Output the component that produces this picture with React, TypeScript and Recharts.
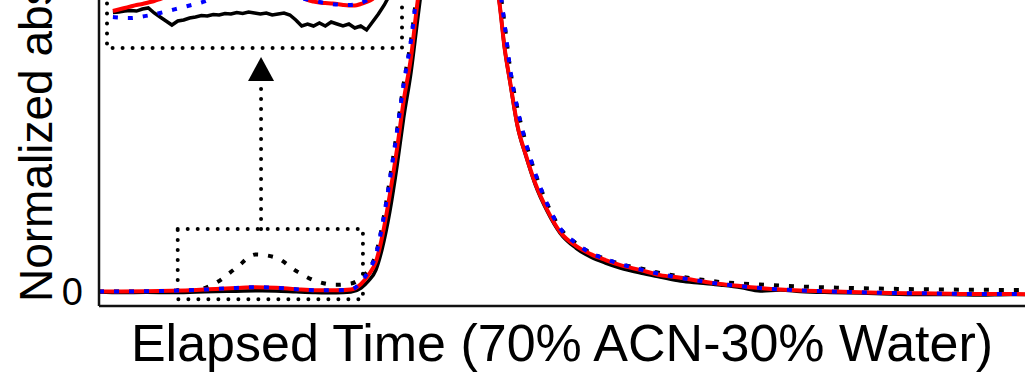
import React from "react";
import {
  ComposedChart,
  LineChart,
  Line,
  XAxis,
  YAxis,
  ReferenceArea,
  ReferenceLine,
  ReferenceDot,
} from "recharts";

// elapsed time (arbitrary units, 0-100 across the axis)
const TIME = [
  0, 2.4, 5.1, 7.8, 10.5, 12.6, 14.8, 16.9, 19.1, 21.3, 23.4, 25.6, 27.2, 28.3,
  29.1, 29.9, 30.6, 31.4, 32.2, 32.9, 33.7, 34.4, 35.3, 36.4, 37.8, 39.1, 40.4,
  41.6, 42.5, 43.2, 43.8, 44.4, 45.2, 46.1, 47.1, 48.4, 49.8, 51.5, 53.1, 54.7,
  56.3, 58.5, 60.6, 62.8, 64.9, 67.1, 69.3, 71.4, 73.6, 75.7, 79.0, 82.2, 85.4,
  88.7, 91.9, 95.1, 98.4, 100,
];

// normalized absorbance, solid black trace
const BLACK = [
  0, -0.0011, -0.0007, -0.0011, 0, 0.0011, 0.0018, 0.0026, 0.0022, 0.0004,
  -0.0011, -0.0018, 0, 0.0088, 0.0241, 0.0482, 0.0964, 0.1753, 0.2784, 0.3814,
  0.4822, 0.5962, 0.735, 0.87, 0.98, 1.0, 0.947, 0.815, 0.706, 0.64, 0.534,
  0.458, 0.362, 0.298, 0.236, 0.177, 0.129, 0.0964, 0.0767, 0.0635, 0.0526,
  0.0416, 0.0329, 0.0241, 0.0197, 0.0153, 0.0099, 0.0022, 0.0044, 0.0011,
  -0.0011, -0.0022, -0.0044, -0.0055, -0.0055, -0.0066, -0.0055, -0.0055,
];

// dotted black trace (with the small hump before the main peak)
const BLACK_DOT = [
  0.001, 0.001, 0.0015, 0.0026, 0.0044, 0.0197, 0.0526, 0.0822, 0.0756, 0.046,
  0.0241, 0.0158, 0.0186, 0.0307, 0.0482, 0.0833, 0.1469, 0.2455, 0.3551,
  0.4559, 0.5524, 0.6664, 0.78, 0.9, 0.99, 1.0, 0.96, 0.84, 0.74, 0.675, 0.587,
  0.489, 0.401, 0.327, 0.261, 0.193, 0.14, 0.107, 0.0855, 0.0723, 0.0614,
  0.0515, 0.0416, 0.034, 0.0274, 0.0219, 0.0186, 0.0164, 0.0142, 0.0121,
  0.0099, 0.0083, 0.007, 0.0061, 0.0053, 0.0048, 0.0044, 0.0044,
];

const RED = [
  0.001, 0.001, 0.0015, 0.0026, 0.0044, 0.0066, 0.0088, 0.0105, 0.0092, 0.0061,
  0.0039, 0.0037, 0.0055, 0.0175, 0.0373, 0.0658, 0.1228, 0.2126, 0.3156,
  0.4187, 0.5151, 0.6357, 0.75, 0.88, 0.985, 1.0, 0.947, 0.815, 0.706, 0.64,
  0.535, 0.46, 0.364, 0.3, 0.239, 0.18, 0.1315, 0.101, 0.083, 0.07, 0.059,
  0.048, 0.037, 0.031, 0.024, 0.0175, 0.013, 0.0088, 0.0055, 0.0033, 0.0011,
  -0.0007, -0.0022, -0.0028, -0.0039, -0.0044, -0.0044, -0.0048,
];

const BLUE = [
  0.001, 0.001, 0.0015, 0.0026, 0.0044, 0.0066, 0.0088, 0.0105, 0.0092, 0.0061,
  0.0039, 0.0037, 0.0055, 0.0219, 0.046, 0.0811, 0.1469, 0.2455, 0.3551,
  0.4559, 0.5524, 0.6664, 0.78, 0.9, 0.99, 1.0, 0.96, 0.84, 0.74, 0.675, 0.587,
  0.489, 0.401, 0.327, 0.261, 0.193, 0.14, 0.107, 0.0855, 0.0723, 0.0614,
  0.0493, 0.0395, 0.0307, 0.0241, 0.0175, 0.013, 0.0088, 0.0055, 0.0033,
  0.0011, -0.0007, -0.0022, -0.0028, -0.0039, -0.0044, -0.0044, -0.0048,
];

// magnified inset (its own scale)
const INSET_U = [
  2, 4, 6, 8, 10, 12, 14, 16, 18, 20, 22, 24, 26, 28, 30, 32, 34, 36, 38, 40,
  42, 44, 46, 48, 50, 52, 54, 56, 58, 60, 62, 64, 66, 68, 70, 72, 74, 76, 78,
  80, 82, 84, 86, 88, 90, 92, 94, 96, 98, 100,
];
const INSET_BLACK = [
  0.403, 0.409, 0.42, 0.426, 0.42, 0.443, 0.455, 0.398, 0.352, 0.307, 0.261,
  0.307, 0.318, 0.341, 0.352, 0.369, 0.364, 0.381, 0.375, 0.392, 0.386, 0.403,
  0.392, 0.409, 0.398, 0.386, 0.398, 0.375, 0.386, 0.398, 0.375, 0.318, 0.25,
  0.273, 0.25, 0.284, 0.25, 0.295, 0.273, 0.25, 0.273, 0.227, 0.25, 0.205,
  0.295, 0.386, 0.489, 0.614, 0.773, 0.943,
];
const INSET_RED = [
  0.42, 0.438, 0.455, 0.472, 0.489, 0.5, 0.517, 0.534, 0.557, 0.58, 0.602,
  0.625, 0.648, 0.67, 0.693, 0.705, 0.716, 0.727, 0.739, 0.75, 0.756, 0.761,
  0.761, 0.761, 0.761, 0.756, 0.75, 0.739, 0.722, 0.705, 0.67, 0.636, 0.591,
  0.545, 0.528, 0.517, 0.511, 0.506, 0.5, 0.489, 0.483, 0.483, 0.5, 0.523,
  0.557, 0.614, 0.705, 0.818, 0.955, 1.114,
];
const INSET_BLUE = [
  0.352, 0.347, 0.341, 0.341, 0.347, 0.358, 0.369, 0.381, 0.398, 0.415, 0.432,
  0.449, 0.466, 0.483, 0.5, 0.517, 0.54, 0.563, 0.585, 0.602, 0.619, 0.636,
  0.648, 0.659, 0.659, 0.659, 0.653, 0.642, 0.625, 0.608, 0.591, 0.574, 0.563,
  0.551, 0.54, 0.523, 0.511, 0.5, 0.494, 0.489, 0.489, 0.494, 0.511, 0.54,
  0.58, 0.636, 0.716, 0.807, 0.92, 1.057,
];

// zoom box around the hump and the arrow pointing to the inset
const ZOOM_BOX = { x1: 8.5, x2: 28.5, y1: -0.016, y2: 0.138 };
const ARROW_X = 17.5;
const ARROW_TOP = 0.4625;

const FONT = "'Liberation Sans', Arial, Helvetica, sans-serif";

const mainData = TIME.map((t, i) => ({
  t,
  black: BLACK[i],
  blackDot: BLACK_DOT[i],
  red: RED[i],
  blue: BLUE[i],
}));

const insetData = INSET_U.map((u, i) => ({
  u,
  black: INSET_BLACK[i],
  red: INSET_RED[i],
  blue: INSET_BLUE[i],
}));

const XLabel = (props: any) => {
  const vb = props.viewBox;
  return (
    <text
      x={vb.x + vb.width / 2}
      y={361}
      textAnchor="middle"
      fontSize={52}
      fontFamily={FONT}
      fill="#000"
    >
      Elapsed Time (70% ACN-30% Water)
    </text>
  );
};

const YLabel = () => (
  <text
    x={52}
    y={302}
    transform="rotate(-90, 52, 302)"
    textAnchor="start"
    fontSize={46}
    fontFamily={FONT}
    fill="#000"
  >
    Normalized absorbance
  </text>
);

const Arrowhead = (props: any) => {
  const { cx, cy } = props;
  return (
    <polygon
      points={`${cx - 13},${cy} ${cx + 13},${cy} ${cx},${cy - 24}`}
      fill="#000"
    />
  );
};

const dotted = {
  stroke: "#000",
  strokeWidth: 4,
  strokeDasharray: "0 10",
  strokeLinecap: "round" as const,
};

export default function App() {
  return (
    <div
      style={{
        position: "fixed",
        left: 0,
        top: 0,
        width: 1025,
        height: 375,
        background: "#fff",
        overflow: "hidden",
      }}
    >
      <ComposedChart
        width={1025}
        height={375}
        data={mainData}
        margin={{ top: 0, right: 0, bottom: 0, left: 0 }}
      >
        <XAxis
          dataKey="t"
          type="number"
          domain={[0, 100]}
          allowDataOverflow
          height={69}
          tick={false}
          tickLine={false}
          axisLine={{ stroke: "#111", strokeWidth: 2.5 }}
          label={{ content: XLabel }}
        />
        <YAxis
          type="number"
          domain={[-0.0307, 0.64]}
          allowDataOverflow
          width={99}
          ticks={[0]}
          tickSize={0}
          tickMargin={16}
          tickLine={false}
          axisLine={{ stroke: "#111", strokeWidth: 2.5 }}
          tick={{ fontSize: 38, fill: "#000", fontFamily: FONT }}
          label={{ content: YLabel }}
        />
        <ReferenceArea
          {...ZOOM_BOX}
          ifOverflow="visible"
          fill="none"
          fillOpacity={0}
          {...dotted}
        />
        <ReferenceLine
          segment={[
            { x: ARROW_X, y: ZOOM_BOX.y2 },
            { x: ARROW_X, y: ARROW_TOP },
          ]}
          ifOverflow="visible"
          {...dotted}
        />
        <ReferenceDot
          x={ARROW_X}
          y={ARROW_TOP}
          ifOverflow="visible"
          shape={Arrowhead}
        />
        <Line
          dataKey="black"
          type="monotone"
          stroke="#000"
          strokeWidth={3.5}
          dot={false}
          activeDot={false}
          isAnimationActive={false}
        />
        <Line
          dataKey="blackDot"
          type="monotone"
          stroke="#000"
          strokeWidth={4}
          strokeDasharray="5 10"
          dot={false}
          activeDot={false}
          isAnimationActive={false}
        />
        <Line
          dataKey="red"
          type="monotone"
          stroke="#ff0000"
          strokeWidth={4}
          dot={false}
          activeDot={false}
          isAnimationActive={false}
        />
        <Line
          dataKey="blue"
          type="monotone"
          stroke="#0000ff"
          strokeWidth={4}
          strokeDasharray="5 10"
          dot={false}
          activeDot={false}
          isAnimationActive={false}
        />
      </ComposedChart>

      <div style={{ position: "absolute", left: 100, top: 0 }}>
        <LineChart
          width={310}
          height={60}
          data={insetData}
          margin={{ top: 0, right: 8, bottom: 12, left: 7 }}
        >
          <XAxis dataKey="u" type="number" domain={[0, 100]} hide />
          <YAxis type="number" domain={[0, 0.5455]} allowDataOverflow hide />
          <ReferenceArea
            x1={0}
            x2={100}
            y1={0}
            y2={1.2}
            ifOverflow="visible"
            fill="none"
            fillOpacity={0}
            {...dotted}
          />
          <Line
            dataKey="black"
            type="linear"
            stroke="#000"
            strokeWidth={3.5}
            dot={false}
            activeDot={false}
            isAnimationActive={false}
          />
          <Line
            dataKey="red"
            type="monotone"
            stroke="#ff0000"
            strokeWidth={4}
            dot={false}
            activeDot={false}
            isAnimationActive={false}
          />
          <Line
            dataKey="blue"
            type="monotone"
            stroke="#0000ff"
            strokeWidth={4}
            strokeDasharray="5 10"
            dot={false}
            activeDot={false}
            isAnimationActive={false}
          />
        </LineChart>
      </div>
    </div>
  );
}
